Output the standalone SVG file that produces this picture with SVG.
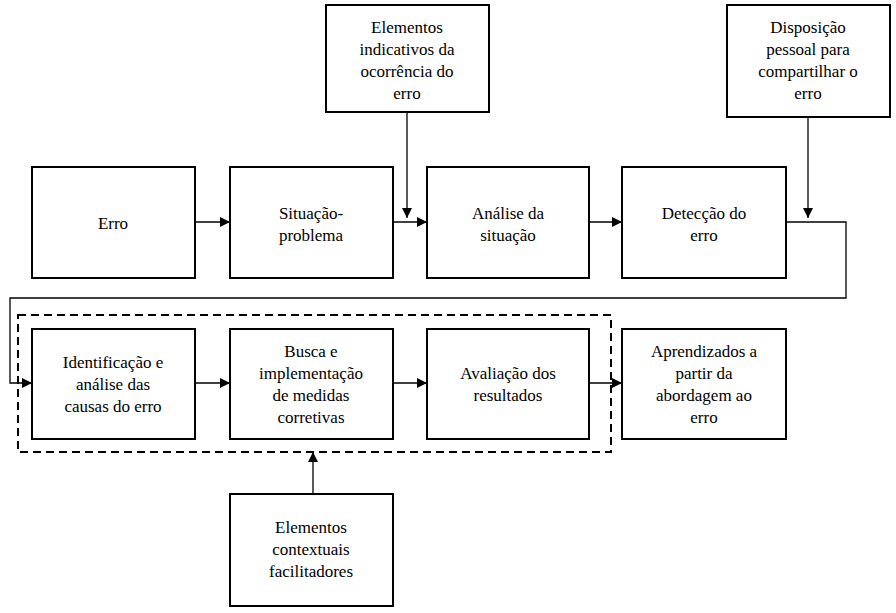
<svg xmlns="http://www.w3.org/2000/svg" width="896" height="613" viewBox="0 0 896 613">
<style>
.b{fill:#fff;stroke:#000;stroke-width:2}
.c{fill:none;stroke:#000;stroke-width:1.3}
text{font-family:'Liberation Serif','Times New Roman','DejaVu Serif',serif;font-size:17px;text-anchor:middle}
</style>
<defs><marker id="a" markerWidth="10" markerHeight="10" refX="10" refY="5" orient="auto" markerUnits="userSpaceOnUse"><path d="M0,0L10,5L0,10z"/></marker></defs>
<rect width="896" height="613" fill="#fff"/>
<g id="erro"><rect class="b" x="32" y="167" width="163" height="111"/><text x="113" y="229">Erro</text></g>
<g id="situacao"><rect class="b" x="230" y="167" width="163" height="111"/><text x="311" y="219">Situação-</text><text x="311" y="241">problema</text></g>
<g id="analise"><rect class="b" x="427" y="167" width="162" height="111"/><text x="508" y="219">Análise da</text><text x="508" y="241">situação</text></g>
<g id="deteccao"><rect class="b" x="622" y="167" width="164" height="111"/><text x="704" y="219">Detecção do</text><text x="704" y="241">erro</text></g>
<g id="elementos"><rect class="b" x="326" y="5" width="163" height="107"/><text x="407" y="33">Elementos</text><text x="407" y="55">indicativos da</text><text x="407" y="77">ocorrência do</text><text x="407" y="99">erro</text></g>
<g id="disposicao"><rect class="b" x="727" y="5" width="163" height="112"/><text x="808" y="33">Disposição</text><text x="808" y="55">pessoal para</text><text x="808" y="77">compartilhar o</text><text x="808" y="99">erro</text></g>
<rect x="18" y="315" width="593" height="137" fill="none" stroke="#000" stroke-width="2" stroke-dasharray="8,5"/>
<g id="identificacao"><rect class="b" x="32" y="329" width="163" height="110"/><text x="113" y="368">Identificação e</text><text x="113" y="390">análise das</text><text x="113" y="412">causas do erro</text></g>
<g id="busca"><rect class="b" x="230" y="329" width="163" height="110"/><text x="311" y="357">Busca e</text><text x="311" y="379">implementação</text><text x="311" y="401">de medidas</text><text x="311" y="423">corretivas</text></g>
<g id="avaliacao"><rect class="b" x="427" y="329" width="162" height="110"/><text x="508" y="379">Avaliação dos</text><text x="508" y="401">resultados</text></g>
<g id="aprendizados"><rect class="b" x="622" y="329" width="164" height="110"/><text x="704" y="357">Aprendizados a</text><text x="704" y="379">partir da</text><text x="704" y="401">abordagem ao</text><text x="704" y="423">erro</text></g>
<g id="contextuais"><rect class="b" x="230" y="494" width="163" height="112"/><text x="311" y="533">Elementos</text><text x="311" y="555">contextuais</text><text x="311" y="577">facilitadores</text></g>
<g id="connectors">
<path class="c" d="M195,222H230" marker-end="url(#a)"/>
<path class="c" d="M393,222H427" marker-end="url(#a)"/>
<path class="c" d="M407,112V218" marker-end="url(#a)"/>
<path class="c" d="M589,222H622" marker-end="url(#a)"/>
<path class="c" d="M808,117V218" marker-end="url(#a)"/>
<path class="c" d="M786,222H846V298H10V383H32" marker-end="url(#a)"/>
<path class="c" d="M195,383H230" marker-end="url(#a)"/>
<path class="c" d="M393,383H427" marker-end="url(#a)"/>
<path class="c" d="M589,383H622" marker-end="url(#a)"/>
<path class="c" d="M313,494V452" marker-end="url(#a)"/>
</g>
</svg>
